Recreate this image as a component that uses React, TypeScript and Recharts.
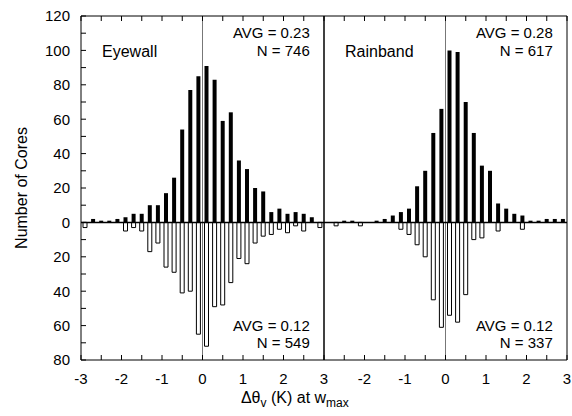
import { BarChart, Bar, XAxis, YAxis, ReferenceLine, ReferenceDot } from 'recharts';

const FONT = '"Liberation Sans", Arial, sans-serif';

// bin centres (K), 0.2 K bins, same for both panels
const BINS = [
  -2.9, -2.7, -2.5, -2.3, -2.1, -1.9, -1.7, -1.5, -1.3, -1.1,
  -0.9, -0.7, -0.5, -0.3, -0.1, 0.1, 0.3, 0.5, 0.7, 0.9,
  1.1, 1.3, 1.5, 1.7, 1.9, 2.1, 2.3, 2.5, 2.7, 2.9,
];

// right panel is drawn on the same axis, shifted by one panel width
const PANEL_OFFSET = 6;

const EYEWALL_UP = [0, 2, 1, 1, 2, 3, 5, 5, 10, 10, 17, 26, 54, 77, 85, 91, 83, 59, 64, 36, 31, 20, 18, 6, 8, 5, 6, 5, 3, 0];
const EYEWALL_DOWN = [3, 0, 0, 0, 0, 5, 3, 5, 17, 12, 26, 29, 41, 40, 65, 72, 49, 48, 35, 21, 24, 12, 8, 7, 4, 6, 2, 5, 0, 3];
const RAINBAND_UP = [0, 0, 1, 1, 0, 0, 1, 2, 4, 6, 8, 21, 30, 52, 66, 100, 99, 70, 52, 33, 30, 11, 8, 5, 4, 1, 1, 2, 2, 2];
const RAINBAND_DOWN = [0, 2, 0, 0, 2, 0, 0, 0, 0, 4, 7, 13, 20, 45, 61, 54, 58, 42, 10, 9, 0, 5, 0, 0, 4, 0, 0, 0, 0, 0];

const X_TICKS = [
  -3, -2.5, -2, -1.5, -1, -0.5, 0, 0.5, 1, 1.5, 2, 2.5, 3,
  3.5, 4, 4.5, 5, 5.5, 6, 6.5, 7, 7.5, 8, 8.5, 9,
];
const Y_TICKS = [-80, -70, -60, -50, -40, -30, -20, -10, 0, 10, 20, 30, 40, 50, 60, 70, 80, 90, 100, 110, 120];

const data = [
  ...BINS.map((x, i) => ({ x, up: EYEWALL_UP[i], down: -EYEWALL_DOWN[i] })),
  ...BINS.map((x, i) => ({ x: x + PANEL_OFFSET, up: RAINBAND_UP[i], down: -RAINBAND_DOWN[i] })),
];

const fmtX = (v: number) => {
  if (!Number.isInteger(v)) return '';
  return String(v > 3 ? v - PANEL_OFFSET : v);
};
const fmtY = (v: number) => (v % 20 === 0 ? String(Math.abs(v)) : '');

function Note(props: any) {
  const { viewBox, txt, anchor = 'end', size = 15 } = props;
  if (!viewBox) return null;
  return (
    <text x={viewBox.x} y={viewBox.y} textAnchor={anchor} fontSize={size} fill="#000" fontFamily={FONT}>
      {txt}
    </text>
  );
}

function XTitle(props: any) {
  const { viewBox } = props;
  if (!viewBox) return null;
  const cx = viewBox.x + viewBox.width * 0.44;
  return (
    <text x={cx} y={viewBox.y + 43} textAnchor="middle" fontSize={16} fill="#000" fontFamily={FONT}>
      <tspan>Δθ</tspan>
      <tspan dy={4} fontSize={12}>v</tspan>
      <tspan dy={-4}> (K) at w</tspan>
      <tspan dy={4} fontSize={12}>max</tspan>
    </text>
  );
}

function YTitle(props: any) {
  const { viewBox } = props;
  if (!viewBox) return null;
  const x = viewBox.x + 21;
  const y = viewBox.y + viewBox.height / 2;
  return (
    <text x={x} y={y} transform={`rotate(-90, ${x}, ${y})`} textAnchor="middle" dominantBaseline="central"
      fontSize={16} fill="#000" fontFamily={FONT}>
      Number of Cores
    </text>
  );
}

const NOTES = [
  { x: -2.48, y: 96, txt: 'Eyewall', anchor: 'start', size: 16 },
  { x: 2.65, y: 107, txt: 'AVG = 0.23' },
  { x: 2.65, y: 97, txt: 'N = 746' },
  { x: 3.52, y: 96, txt: 'Rainband', anchor: 'start', size: 16 },
  { x: 8.65, y: 107, txt: 'AVG = 0.28' },
  { x: 8.65, y: 97, txt: 'N = 617' },
  { x: 2.65, y: -63, txt: 'AVG = 0.12' },
  { x: 2.65, y: -73, txt: 'N = 549' },
  { x: 8.65, y: -63, txt: 'AVG = 0.12' },
  { x: 8.65, y: -73, txt: 'N = 337' },
];

export default function App() {
  const tickStyle = { fill: '#000', fontSize: 15, fontFamily: FONT };
  return (
    <div style={{ position: 'absolute', left: 0, top: 0, background: '#fff' }}>
      <BarChart width={572} height={416} data={data} stackOffset="sign"
        margin={{ top: 15, right: 4, bottom: 0, left: 0 }}>
        <XAxis dataKey="x" type="number" domain={[-3, 9]} ticks={X_TICKS} interval={0}
          tickFormatter={fmtX} tick={tickStyle} tickSize={-5} tickMargin={18} height={56}
          axisLine={{ stroke: '#000' }} tickLine={{ stroke: '#000' }} label={<XTitle />} />
        <XAxis xAxisId="top" orientation="top" dataKey="x" type="number" domain={[-3, 9]} ticks={X_TICKS}
          interval={0} tickFormatter={() => ''} tickSize={-5} height={1}
          axisLine={{ stroke: '#000' }} tickLine={{ stroke: '#000' }} />
        <YAxis type="number" domain={[-80, 120]} ticks={Y_TICKS} interval={0} tickFormatter={fmtY}
          tick={tickStyle} tickSize={-5} tickMargin={16} width={81}
          axisLine={{ stroke: '#000' }} tickLine={{ stroke: '#000' }} label={<YTitle />} />
        <YAxis yAxisId="right" orientation="right" type="number" domain={[-80, 120]} ticks={Y_TICKS}
          interval={0} tickFormatter={() => ''} tickSize={-5} width={1}
          axisLine={{ stroke: '#000' }} tickLine={{ stroke: '#000' }} />
        <ReferenceLine x={0} stroke="#777" strokeWidth={1} />
        <ReferenceLine x={PANEL_OFFSET} stroke="#777" strokeWidth={1} />
        <Bar dataKey="up" stackId="s" fill="#000" barSize={4} isAnimationActive={false} />
        <Bar dataKey="down" stackId="s" fill="#fff" stroke="#000" strokeWidth={1} barSize={4} isAnimationActive={false} />
        <ReferenceLine x={3} stroke="#000" strokeWidth={1.5} />
        <ReferenceLine y={0} stroke="#000" strokeWidth={1.5} />
        {NOTES.map((n, i) => (
          <ReferenceDot key={i} x={n.x} y={n.y} r={0} fill="none" stroke="none"
            label={<Note txt={n.txt} anchor={n.anchor} size={n.size} />} />
        ))}
      </BarChart>
    </div>
  );
}
